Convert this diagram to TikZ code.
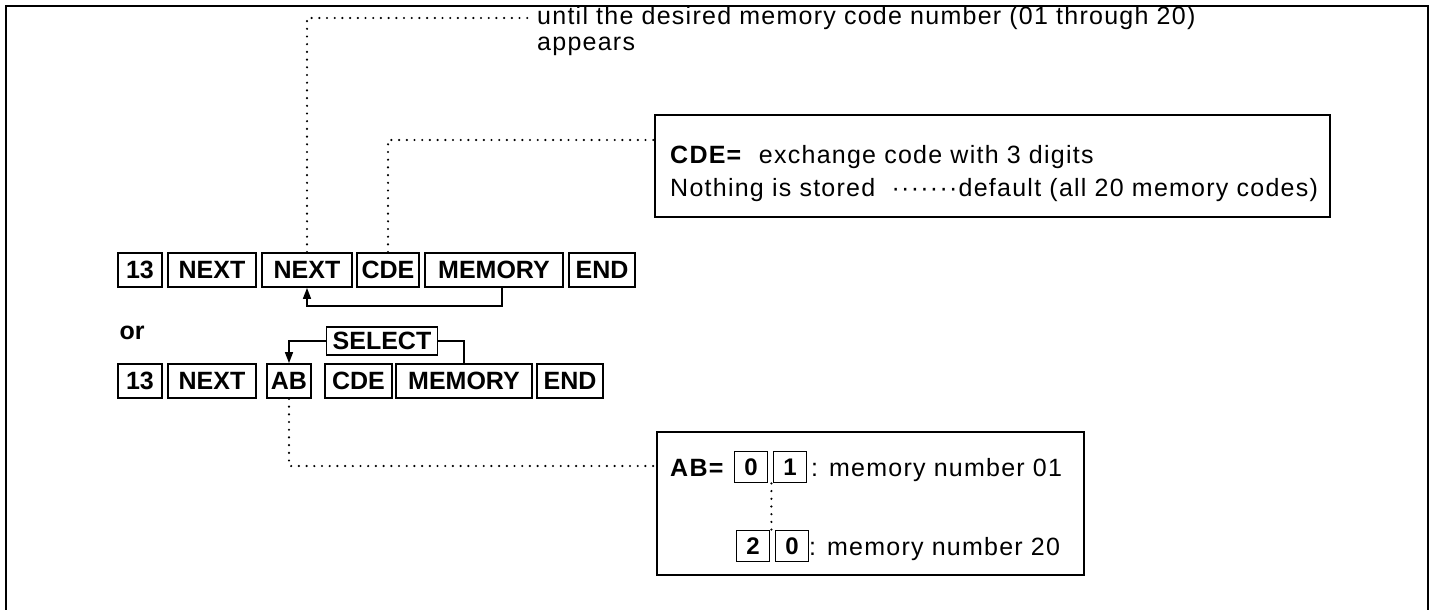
\documentclass[tikz,border=0pt]{standalone}
\usepackage{fontspec}
\setmainfont{Liberation Sans}
\newfontfamily\notefont[LetterSpace=5]{Liberation Sans}
\usetikzlibrary{positioning,arrows.meta,fit}

\begin{document}
\begin{tikzpicture}[x=1pt, y=-1pt,
    key/.style={rectangle, draw=black, line width=1.8pt, inner xsep=4pt, inner ysep=0pt, minimum height=34pt, font=\fontsize{25}{25}\selectfont\bfseries},
    digit/.style={key, minimum width=33pt, minimum height=31pt, inner xsep=2pt, font=\fontsize{24}{24}\selectfont\bfseries},
    info/.style={rectangle, draw=black, line width=1.8pt, inner sep=0pt},
    note/.style={anchor=base west, inner xsep=12pt, inner ysep=0pt, text height=18pt, text depth=5pt, font=\notefont\fontsize{25}{26}\selectfont},
    tail/.style={note, inner xsep=22pt},
    leader/.style={line width=2.4pt, line cap=round, dash pattern=on 0pt off 7.7pt},
    route/.style={line width=1.6pt},
    arrow/.style={route, -{Triangle[length=11pt, width=8pt]}}
]
\useasboundingbox (0,0) rectangle (1432,610);

% outer frame
\draw[line width=2.5pt] (6,612) -- (6,6) -- (1428,6) -- (1428,612);

% first key sequence
\node[key, minimum width=44] (k13a) at (140,270) {13};
\node[key, minimum width=88] (next1) at (212,270) {NEXT};
\node[key, minimum width=90] (next2) at (307,270) {NEXT};
\node[key, minimum width=62] (cde1) at (388,270) {CDE};
\node[key, minimum width=138] (mem1) at (494,270) {MEMORY};
\node[key, minimum width=66] (end1) at (602,270) {END};

\node[font=\fontsize{25}{25}\selectfont\bfseries, inner sep=0pt] (or) at (132,333) {or};

% second key sequence
\node[key, minimum width=44] (k13b) at (140,381) {13};
\node[key, minimum width=88] (next3) at (212,381) {NEXT};
\node[key, minimum width=44] (ab) at (289,381) {AB};
\node[key, minimum width=67] (cde2) at (358.5,381) {CDE};
\node[key, minimum width=136] (mem2) at (464,381) {MEMORY};
\node[key, minimum width=66] (end2) at (570,381) {END};
\node[key, minimum width=111, minimum height=28] (select) at (382,341) {SELECT};

% loops
\coordinate (loop1) at (502,306);
\draw[arrow] (loop1 |- mem1.south) -- (loop1) -| (next2.south);
\draw[arrow] (select.west) -| (ab.north);
\draw[route] (select.east) -| (mem2.north);

% top note
\node[note] (until) at (525,25) {until the desired memory code number (01 through 20)};
\node[note] (appears) at (525,51) {appears};
\coordinate (untiltap) at (532,18);

% CDE note
\node[note] (cdetxt) at (658,163) {\textbf{CDE=}\ \ exchange code with 3 digits};
\node[note] (nothing) at (658,196) {Nothing is stored \ ·······default (all 20 memory codes)};
\coordinate (cdetop) at (655,115);
\coordinate (cdebot) at (655,217);
\node[info, fit=(cdetop)(cdebot)(cdetxt)(nothing)] (cdebox) {};
\coordinate (cdetap) at (655,140);

% AB note
\node[note] (abtxt) at (658,476) {\textbf{AB=}};
\node[digit] (d0) at (751,467) {0};
\node[digit] (d1) at (790,467) {1};
\node[tail] (mem01) at (789,476) {: memory number 01};
\node[digit] (d2) at (753,546) {2};
\node[digit] (d3) at (792,546) {0};
\node[tail] (mem20) at (787,555) {: memory number 20};
\coordinate (abtop) at (657,432);
\coordinate (abbot) at (657,575);
\node[info, fit=(abtop)(abbot)(mem01)(mem20)] (abbox) {};
\coordinate (abtap) at (657,466);

% dotted leaders
\draw[leader] (next2.north) |- (untiltap);
\draw[leader] (cde1.north) |- (cdetap);
\draw[leader] (ab.south) |- (abtap);
\draw[leader] ([xshift=3pt]d0.south east) -- ([xshift=3pt]d0.south east |- d2.north);

\end{tikzpicture}
\end{document}
